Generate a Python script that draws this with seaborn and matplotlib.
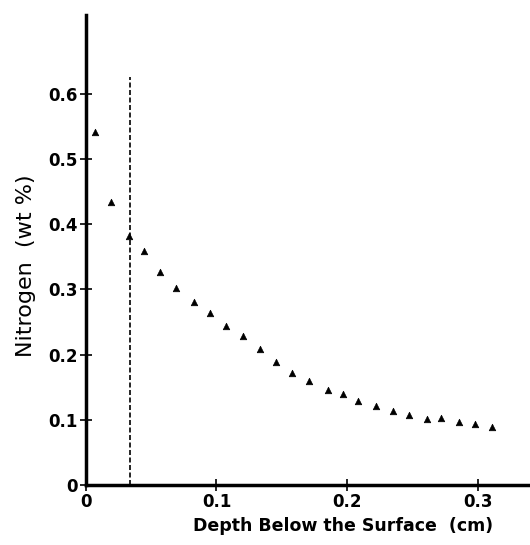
import matplotlib
matplotlib.use("Agg")
import matplotlib.pyplot as plt
import seaborn as sns
import pandas as pd

# Nitrogen profile
depth_cm = [0.0069, 0.0192, 0.0332, 0.0444, 0.0570, 0.0687, 0.0825, 0.0953,
            0.1073, 0.1200, 0.1333, 0.1456, 0.1580, 0.1706, 0.1850, 0.1970,
            0.2084, 0.2220, 0.2350, 0.2477, 0.2610, 0.2720, 0.2856, 0.2980,
            0.3106]
nitrogen_wt = [0.541, 0.434, 0.381, 0.358, 0.326, 0.302, 0.281, 0.264,
               0.244, 0.228, 0.208, 0.189, 0.171, 0.159, 0.145, 0.139,
               0.129, 0.121, 0.113, 0.108, 0.101, 0.103, 0.097, 0.093,
               0.089]
boundary_depth = 0.0337
boundary_top = 0.625

x_ticks = [0, 0.1, 0.2, 0.3]
x_tick_labels = ["0", "0.1", "0.2", "0.3"]
y_ticks = [0, 0.1, 0.2, 0.3, 0.4, 0.5, 0.6]
y_tick_labels = ["0", "0.1", "0.2", "0.3", "0.4", "0.5", "0.6"]

sns.set_theme(style="ticks")
plt.rcParams["font.family"] = ["DejaVu Sans"]
plt.rcParams["text.color"] = "black"
plt.rcParams["axes.labelcolor"] = "black"
plt.rcParams["xtick.color"] = "black"
plt.rcParams["ytick.color"] = "black"

df = pd.DataFrame({"depth": depth_cm, "nitrogen": nitrogen_wt})

fig = plt.figure(figsize=(5.3, 5.45), dpi=100)
ax = fig.add_axes([0.162, 0.110, 0.838, 0.862])

sns.scatterplot(data=df, x="depth", y="nitrogen", marker="^", color="black",
                s=22, edgecolor="black", linewidth=0.5, ax=ax, zorder=3)

ax.vlines(boundary_depth, 0, boundary_top, colors="black", linewidth=1.2,
          linestyles=(0, (3, 1.5)))

ax.set_xlim(0, 0.34)
ax.set_ylim(0, 0.72)
ax.set_xticks(x_ticks)
ax.set_xticklabels(x_tick_labels, fontsize=12, fontweight="bold")
ax.set_yticks(y_ticks)
ax.set_yticklabels(y_tick_labels, fontsize=12, fontweight="bold")
ax.tick_params(axis="both", direction="inout", length=8, width=1.2,
               color="black", pad=2)

for side in ["top", "right"]:
    ax.spines[side].set_visible(False)
for side in ["left", "bottom"]:
    ax.spines[side].set_linewidth(2.5)
    ax.spines[side].set_color("black")

ax.set_xlabel("Depth Below the Surface  (cm)", fontsize=12.5,
              fontweight="bold")
ax.set_ylabel("Nitrogen  (wt %)", fontsize=16)
ax.xaxis.set_label_coords(0.579, -0.068)
ax.yaxis.set_label_coords(-0.112, 0.466)

fig.savefig("out.png", dpi=100)
plt.close(fig)
